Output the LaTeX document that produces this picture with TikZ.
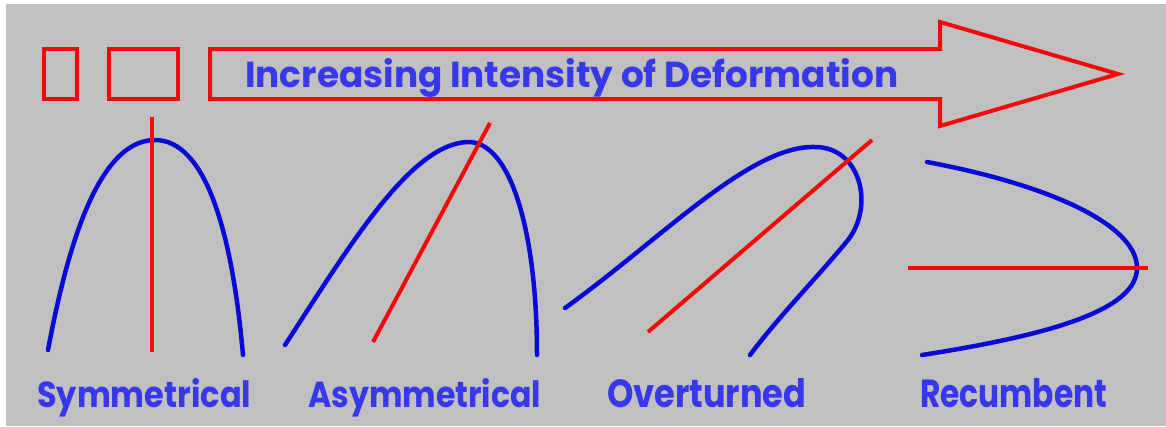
\documentclass[tikz,border=0pt]{standalone}
\usepackage{fontspec}
\usepackage{graphicx}
\newfontfamily\labelfont{Poppins}[BoldFont={* Bold}]
\definecolor{bggray}{RGB}{192,192,192}
\definecolor{foldblue}{RGB}{10,10,215}
\definecolor{textblue}{RGB}{55,55,235}
\definecolor{axisred}{RGB}{240,10,10}
\newcommand{\fitlabel}[3]{\resizebox{#1pt}{#2pt}{\labelfont\bfseries\fontsize{30}{36}\selectfont #3}}
\begin{document}
\begin{tikzpicture}[x=1pt,y=-1pt,
  limb/.style={draw=foldblue,line width=4.5pt,line cap=round,line join=round},
  axial/.style={draw=axisred,line width=4pt},
  frame/.style={draw=axisred,line width=4pt,line join=miter},
  lbl/.style={inner sep=0pt,anchor=base west,text=textblue}]
\useasboundingbox (0,0) rectangle (1166,426);
\fill[white] (0,0) rectangle (1166,426);
\fill[bggray] (6,4) rectangle (1166,426);
% boxes and arrow
\draw[frame] (44,49) rectangle (77,99);
\draw[frame] (109,49) rectangle (178,99);
\draw[frame] (210,49) -- (940,49) -- (940,22) -- (1118,74) -- (940,126) -- (940,99) -- (210,99) -- cycle;
\node[lbl] (title) at (245,87) {\fitlabel{653}{29}{Increasing Intensity of Deformation}};
% fold 1: symmetrical
\draw[limb] (48,350) .. controls (65,260) and (95,140) .. (155,140)
                     .. controls (205,140) and (232,230) .. (243,355);
\coordinate (s1) at (152,117); \coordinate (s2) at (152,352);
\draw[axial] (s1) -- (s2);
% fold 2: asymmetrical
\draw[limb] (285,345) .. controls (350,245) and (410,145) .. (467,142)
                      .. controls (510,140) and (537,230) .. (537,355);
\coordinate (a1) at (373,342); \coordinate (a2) at (490,123);
\draw[axial] (a1) -- (a2);
% fold 3: overturned
\draw[limb] (565,308) .. controls (660,240) and (750,145) .. (815,147)
                      .. controls (860,147) and (875,205) .. (848,240)
                      .. controls (815,280) and (780,315) .. (750,355);
\coordinate (o1) at (648,332); \coordinate (o2) at (872,140);
\draw[axial] (o1) -- (o2);
% fold 4: recumbent
\draw[limb] (927,162) .. controls (1050,185) and (1137,225) .. (1137,268)
                      .. controls (1137,310) and (1050,335) .. (922,355);
\coordinate (r1) at (908,268); \coordinate (r2) at (1148,268);
\draw[axial] (r1) -- (r2);
% labels
\node[lbl] (sym) at (37,407) {\fitlabel{214}{29}{Symmetrical}};
\node[lbl] (asym) at (308,407) {\fitlabel{233}{29}{Asymmetrical}};
\node[lbl] (over) at (607,407) {\fitlabel{199}{29}{Overturned}};
\node[lbl] (recu) at (920,407) {\fitlabel{187}{29}{Recumbent}};
\end{tikzpicture}
\end{document}
